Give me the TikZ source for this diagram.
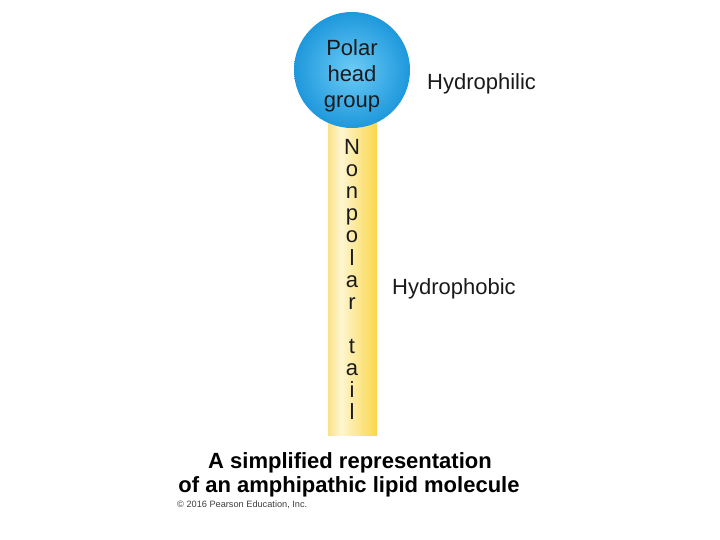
\documentclass[tikz,border=0pt]{standalone}
\usepackage{fontspec}
\setmainfont{Liberation Sans}
\definecolor{tailgoldL}{HTML}{F6C72A}
\definecolor{tailcream}{HTML}{FEF6D2}
\definecolor{tailyellow}{HTML}{FAD64A}
\definecolor{tailgoldR}{HTML}{F2B900}
\definecolor{headin}{HTML}{6CCBF6}
\definecolor{headout}{HTML}{1E98DC}
\definecolor{txt}{HTML}{1A1A1A}
\pgfdeclarehorizontalshading{tailshade}{100bp}{color(0bp)=(tailgoldL); color(8bp)=(tailgoldL); color(38bp)=(tailcream); color(75bp)=(tailyellow); color(92bp)=(tailgoldR); color(100bp)=(tailgoldR)}
\begin{document}
\begin{tikzpicture}[x=1pt,y=-1pt,
  lbl/.style={font=\fontsize{22}{26}\selectfont, text=txt, inner sep=0pt},
  letter/.style={font=\fontsize{22}{22}\selectfont, text=txt, inner sep=0pt, anchor=base},
  title/.style={font=\bfseries\fontsize{22}{24}\selectfont, text=black, inner sep=0pt, anchor=base},
  copyr/.style={font=\fontsize{9.2}{10}\selectfont, text=black!75, inner sep=0pt, anchor=base west}]
\useasboundingbox[fill=white] (0,0) rectangle (720,540);
% tail
\node[draw=none, shading=tailshade, minimum width=49pt, minimum height=320pt, inner sep=0pt, anchor=north] (tail) at (352.5,115) {};
% head
\node[circle, draw=none, inner color=headin, outer color=headout, minimum size=116pt, inner sep=0pt] (head) at (352,70) {};
\node[lbl, align=center, anchor=base] (headtxt) at (352,108) {Polar\\head\\group};
% tail letters
\foreach \ch/\yy [count=\i] in {N/155, o/177, n/199, p/221, o/243, l/265, a/287, r/309, t/353, a/375, i/397, l/419}{
  \node[letter] (tl\i) at (352,\yy) {\ch};
}
\node[lbl, anchor=base west] (philic) at (427,90) {Hydrophilic};
\node[lbl, anchor=base west] (phobic) at (392,294) {Hydrophobic};
\node[title] (t1) at (350,468) {A simplified representation};
\node[title] (t2) at (349,492) {of an amphipathic lipid molecule};
\node[copyr] (cp) at (177,507) {© 2016 Pearson Education, Inc.};
\end{tikzpicture}
\end{document}
